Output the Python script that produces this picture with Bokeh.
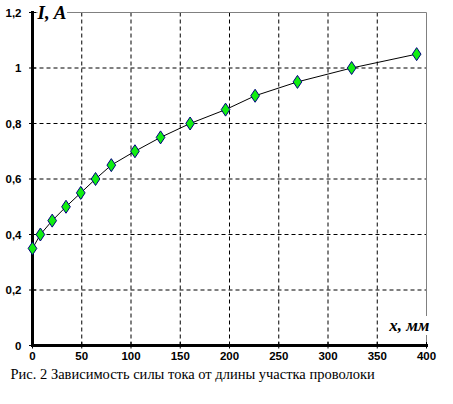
import math
from bokeh.plotting import figure
from bokeh.models import FixedTicker, Label, Title, Range1d
from bokeh.embed import file_html
from bokeh.resources import INLINE

x_mm = [0, 8, 20, 34, 49, 64, 80, 104, 130, 160, 196, 226, 269, 324, 390]
i_a = [0.35, 0.40, 0.45, 0.50, 0.55, 0.60, 0.65, 0.70, 0.75, 0.80, 0.85, 0.90, 0.95, 1.00, 1.05]
x_ticks = [0, 50, 100, 150, 200, 250, 300, 350, 400]
y_ticks = [0, 0.2, 0.4, 0.6, 0.8, 1.0, 1.2]
y_tick_labels = ["0", "0,2", "0,4", "0,6", "0,8", "1", "1,2"]
caption = "Рис. 2 Зависимость силы тока от длины участка проволоки"

# layout (pixels)
W, H = 437, 388
BL, BR, BT, BB = 26, 4, 2, 40
fw, fh = W - BL - BR, H - BT - BB
pad_l, pad_r, pad_t, pad_b = 6, 7, 10, 3
x0, x1 = x_ticks[0], x_ticks[-1]
y0, y1 = y_ticks[0], y_ticks[-1]
sx = (fw - pad_l - pad_r) / (x1 - x0)
sy = (fh - pad_t - pad_b) / (y1 - y0)

p = figure(width=W, height=H, output_backend="svg", toolbar_location=None,
           x_range=Range1d(x0 - pad_l / sx, x1 + pad_r / sx),
           y_range=Range1d(y0 - pad_b / sy, y1 + pad_t / sy),
           min_border_left=BL, min_border_right=BR, min_border_top=BT, min_border_bottom=BB)
p.background_fill_color = "white"
p.border_fill_color = "white"
p.outline_line_color = None
p.xgrid.visible = False
p.ygrid.visible = False

# Bokeh axes only carry the tick labels; lines and ticks are drawn below
for ax in (p.xaxis[0], p.yaxis[0]):
    ax.axis_line_color = None
    ax.major_tick_line_color = None
    ax.major_tick_in = 0
    ax.major_tick_out = 0
    ax.minor_tick_line_color = None
    ax.major_label_text_font = "Liberation Sans"
    ax.major_label_text_font_style = "bold"
    ax.major_label_text_font_size = "11.5px"
    ax.major_label_text_color = "black"
p.xaxis[0].major_label_standoff = 3
p.yaxis[0].major_label_standoff = 5
p.xaxis[0].ticker = FixedTicker(ticks=x_ticks)
p.yaxis[0].ticker = FixedTicker(ticks=y_ticks)
p.yaxis[0].major_label_overrides = {t: l for t, l in zip(y_ticks, y_tick_labels)}

# dashed grid from the tick arrays
gx = x_ticks[1:-1]
p.segment(x0=gx, y0=[y0] * len(gx), x1=gx, y1=[y1] * len(gx),
          line_color="black", line_dash="4 3", line_width=1)
gy = y_ticks[1:-1]
p.segment(x0=[x0] * len(gy), y0=gy, x1=[x1] * len(gy), y1=gy,
          line_color="black", line_dash="4 3", line_width=1)
# gray top and right border
p.segment(x0=[x0, x1], y0=[y1, y0], x1=[x1, x1], y1=[y1, y1],
          line_color="#808080", line_width=1)

# thick axis lines through the origin
p.segment(x0=[x0, x0], y0=[y0, y0], x1=[x0, x1], y1=[y1, y0],
          line_color="black", line_width=3, line_cap="square")
# tick marks crossing the axes
p.scatter(x=[x0] * len(y_ticks), y=y_ticks, marker="dash", size=7,
          line_color="black", line_width=1)
p.scatter(x=x_ticks, y=[y0] * len(x_ticks), marker="dash", size=7, angle=math.pi / 2,
          line_color="black", line_width=1)

p.line(x_mm, i_a, line_color="black", line_width=1)
p.scatter(x_mm, i_a, marker="diamond", size=13, fill_color="#11ee11",
          line_color="#000080", line_width=1)

p.add_layout(Label(x=x0, y=y1, text="I, A", x_offset=5, text_baseline="middle",
                   text_font="Liberation Serif", text_font_style="bold italic",
                   text_font_size="19px", text_color="black",
                   background_fill_color="white", background_fill_alpha=1.0))
p.add_layout(Label(x=x1, y=0.072, text="x, мм", x_offset=3, text_align="right",
                   text_baseline="middle",
                   text_font="Liberation Serif", text_font_style="bold italic",
                   text_font_size="17px", text_color="black",
                   background_fill_color="white", background_fill_alpha=1.0))

p.add_layout(Title(text=caption, align="left", offset=-16, text_font="Liberation Serif",
                   text_font_style="normal", text_font_size="14.5px", text_color="black",
                   standoff=2), "below")

open("out.html", "w").write(file_html(p, INLINE))
